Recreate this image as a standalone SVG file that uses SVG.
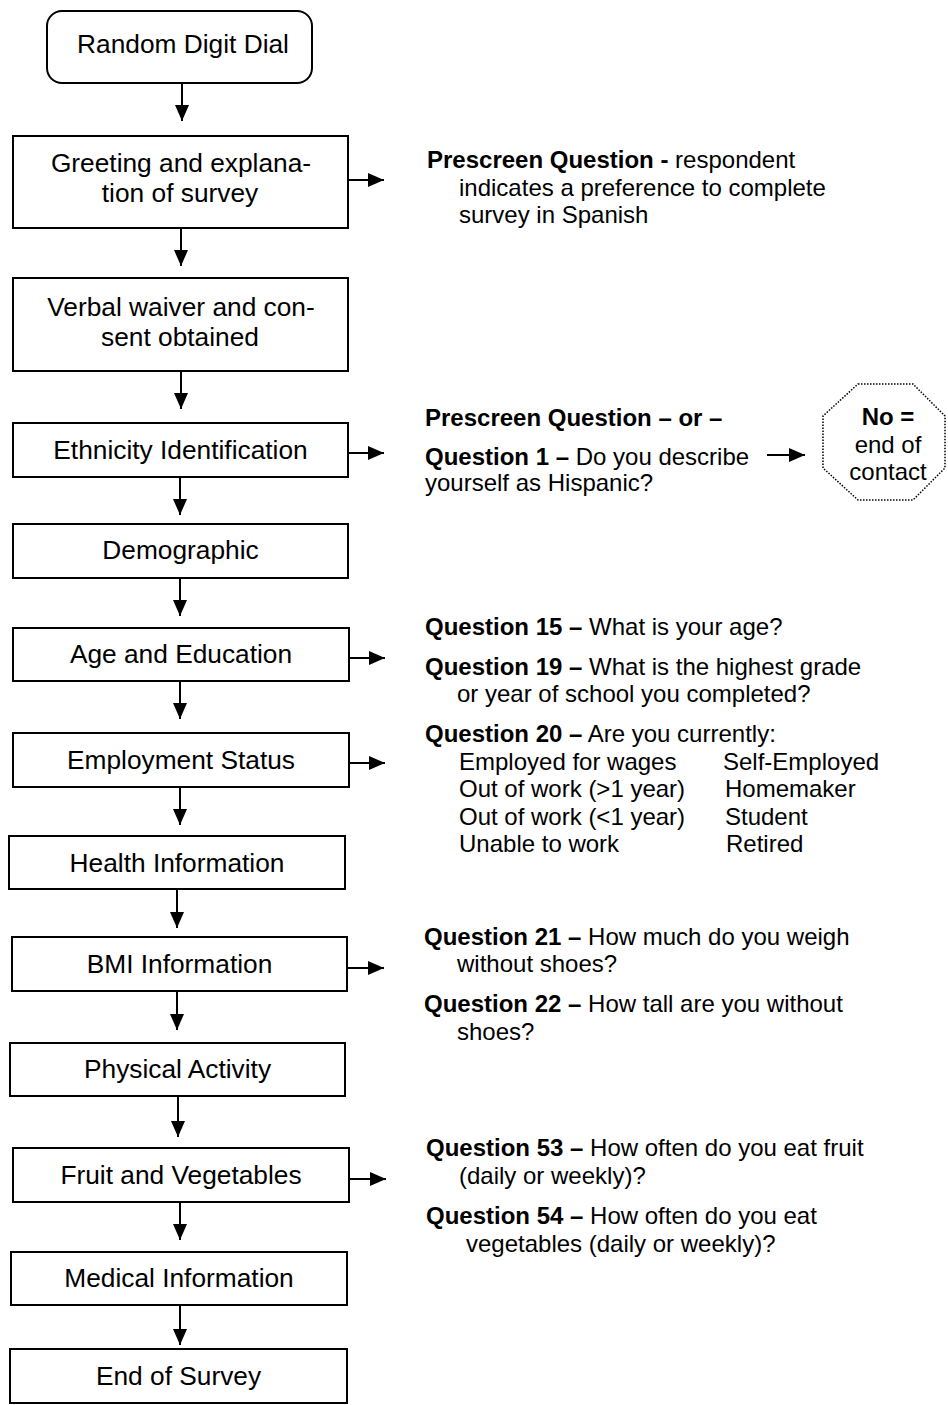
<svg xmlns="http://www.w3.org/2000/svg" width="948" height="1405" viewBox="0 0 948 1405">
<style>
.box{fill:#fff;stroke:#000;stroke-width:2}
.bt{font-family:"Liberation Sans",Arial,sans-serif;font-size:26.3px;fill:#000;text-anchor:middle}
.qt{font-family:"Liberation Sans",Arial,sans-serif;font-size:24px;fill:#000}
.b{font-weight:bold}
.con{stroke:#000;stroke-width:2;fill:none;marker-end:url(#ah)}
.oct{fill:#fff;stroke:#000;stroke-width:1.5;stroke-dasharray:1.5 1.5}
</style>
<defs>
<marker id="ah" viewBox="0 0 16 14" refX="16" refY="7" markerWidth="16" markerHeight="14" markerUnits="userSpaceOnUse" orient="auto">
<path d="M0,0 L16,7 L0,14 Z" fill="#000"/>
</marker>
</defs>
<rect width="948" height="1405" fill="#fff"/>
<g id="connectors">
<line class="con" x1="182" y1="83" x2="182" y2="121"/>
<line class="con" x1="181" y1="228" x2="181" y2="266"/>
<line class="con" x1="181" y1="371" x2="181" y2="409"/>
<line class="con" x1="180" y1="477" x2="180" y2="515"/>
<line class="con" x1="180" y1="578" x2="180" y2="616"/>
<line class="con" x1="180" y1="681" x2="180" y2="719"/>
<line class="con" x1="180" y1="787" x2="180" y2="825"/>
<line class="con" x1="177" y1="889" x2="177" y2="928"/>
<line class="con" x1="177" y1="991" x2="177" y2="1030"/>
<line class="con" x1="178" y1="1096" x2="178" y2="1137"/>
<line class="con" x1="180" y1="1202" x2="180" y2="1240"/>
<line class="con" x1="180" y1="1305" x2="180" y2="1345"/>
<line class="con" x1="348" y1="180" x2="384" y2="180"/>
<line class="con" x1="348" y1="453" x2="384" y2="453"/>
<line class="con" x1="349" y1="658" x2="385" y2="658"/>
<line class="con" x1="349" y1="763" x2="385" y2="763"/>
<line class="con" x1="347" y1="968" x2="384" y2="968"/>
<line class="con" x1="349" y1="1179" x2="386" y2="1179"/>
<line class="con" x1="767" y1="455" x2="805" y2="455"/>
</g>
<g id="n-rdd">
<rect class="box" x="47" y="11" width="265" height="72" rx="15"/>
<text class="bt" x="183" y="53">Random Digit Dial</text>
</g>
<g id="n-greeting">
<rect class="box" x="13" y="136" width="335" height="92"/>
<text class="bt" x="181" y="172">Greeting and explana-</text>
<text class="bt" x="180" y="202">tion of survey</text>
</g>
<g id="n-verbal">
<rect class="box" x="13" y="278" width="335" height="93"/>
<text class="bt" x="181" y="316">Verbal waiver and con-</text>
<text class="bt" x="180" y="346">sent obtained</text>
</g>
<g id="n-ethnicity">
<rect class="box" x="13" y="423" width="335" height="54"/>
<text class="bt" x="180.5" y="459">Ethnicity Identification</text>
</g>
<g id="n-demographic">
<rect class="box" x="13" y="524" width="335" height="54"/>
<text class="bt" x="180.5" y="559">Demographic</text>
</g>
<g id="n-age">
<rect class="box" x="13" y="628" width="336" height="53"/>
<text class="bt" x="181" y="663">Age and Education</text>
</g>
<g id="n-employment">
<rect class="box" x="13" y="733" width="336" height="54"/>
<text class="bt" x="181" y="769">Employment Status</text>
</g>
<g id="n-health">
<rect class="box" x="9" y="836" width="336" height="53"/>
<text class="bt" x="177" y="872">Health Information</text>
</g>
<g id="n-bmi">
<rect class="box" x="12" y="937" width="335" height="54"/>
<text class="bt" x="179.5" y="973">BMI Information</text>
</g>
<g id="n-physical">
<rect class="box" x="10" y="1043" width="335" height="53"/>
<text class="bt" x="177.5" y="1078">Physical Activity</text>
</g>
<g id="n-fruit">
<rect class="box" x="13" y="1148" width="336" height="54"/>
<text class="bt" x="181" y="1184">Fruit and Vegetables</text>
</g>
<g id="n-medical">
<rect class="box" x="11" y="1252" width="336" height="53"/>
<text class="bt" x="179" y="1287">Medical Information</text>
</g>
<g id="n-end">
<rect class="box" x="10" y="1349" width="337" height="54"/>
<text class="bt" x="178.5" y="1385">End of Survey</text>
</g>
<g id="n-nocontact">
<polygon class="oct" points="858,384 913,384 945,416 945,468 913,500 858,500 823,468 823,416"/>
<text class="qt b" x="888" y="425" text-anchor="middle">No =</text>
<text class="qt" x="888" y="453" text-anchor="middle">end of</text>
<text class="qt" x="888" y="480" text-anchor="middle">contact</text>
</g>
<g id="n-q-prescreen">
<text class="qt" x="427" y="168"><tspan class="b">Prescreen Question -</tspan> respondent</text>
<text class="qt" x="459" y="196">indicates a preference to complete</text>
<text class="qt" x="459" y="223">survey in Spanish</text>
</g>
<g id="n-q-ethnicity">
<text class="qt b" x="425" y="426">Prescreen Question – or –</text>
<text class="qt" x="425" y="465"><tspan class="b">Question 1 –</tspan> Do you describe</text>
<text class="qt" x="425" y="491">yourself as Hispanic?</text>
</g>
<g id="n-q-age">
<text class="qt" x="425" y="635"><tspan class="b">Question 15 –</tspan> What is your age?</text>
<text class="qt" x="425" y="675"><tspan class="b">Question 19 –</tspan> What is the highest grade</text>
<text class="qt" x="457" y="702">or year of school you completed?</text>
</g>
<g id="n-q-employment">
<text class="qt" x="425" y="742"><tspan class="b">Question 20 –</tspan> Are you currently:</text>
<text class="qt" x="459" y="770">Employed for wages</text>
<text class="qt" x="459" y="797">Out of work (&gt;1 year)</text>
<text class="qt" x="459" y="825">Out of work (&lt;1 year)</text>
<text class="qt" x="459" y="852">Unable to work</text>
<text class="qt" x="723" y="770">Self-Employed</text>
<text class="qt" x="725" y="797">Homemaker</text>
<text class="qt" x="725" y="825">Student</text>
<text class="qt" x="726" y="852">Retired</text>
</g>
<g id="n-q-bmi">
<text class="qt" x="424" y="945"><tspan class="b">Question 21 –</tspan> How much do you weigh</text>
<text class="qt" x="457" y="972">without shoes?</text>
<text class="qt" x="424" y="1012"><tspan class="b">Question 22 –</tspan> How tall are you without</text>
<text class="qt" x="457" y="1040">shoes?</text>
</g>
<g id="n-q-fruit">
<text class="qt" x="426" y="1156"><tspan class="b">Question 53 –</tspan> How often do you eat fruit</text>
<text class="qt" x="459" y="1184">(daily or weekly)?</text>
<text class="qt" x="426" y="1224"><tspan class="b">Question 54 –</tspan> How often do you eat</text>
<text class="qt" x="466" y="1252">vegetables (daily or weekly)?</text>
</g>
</svg>
